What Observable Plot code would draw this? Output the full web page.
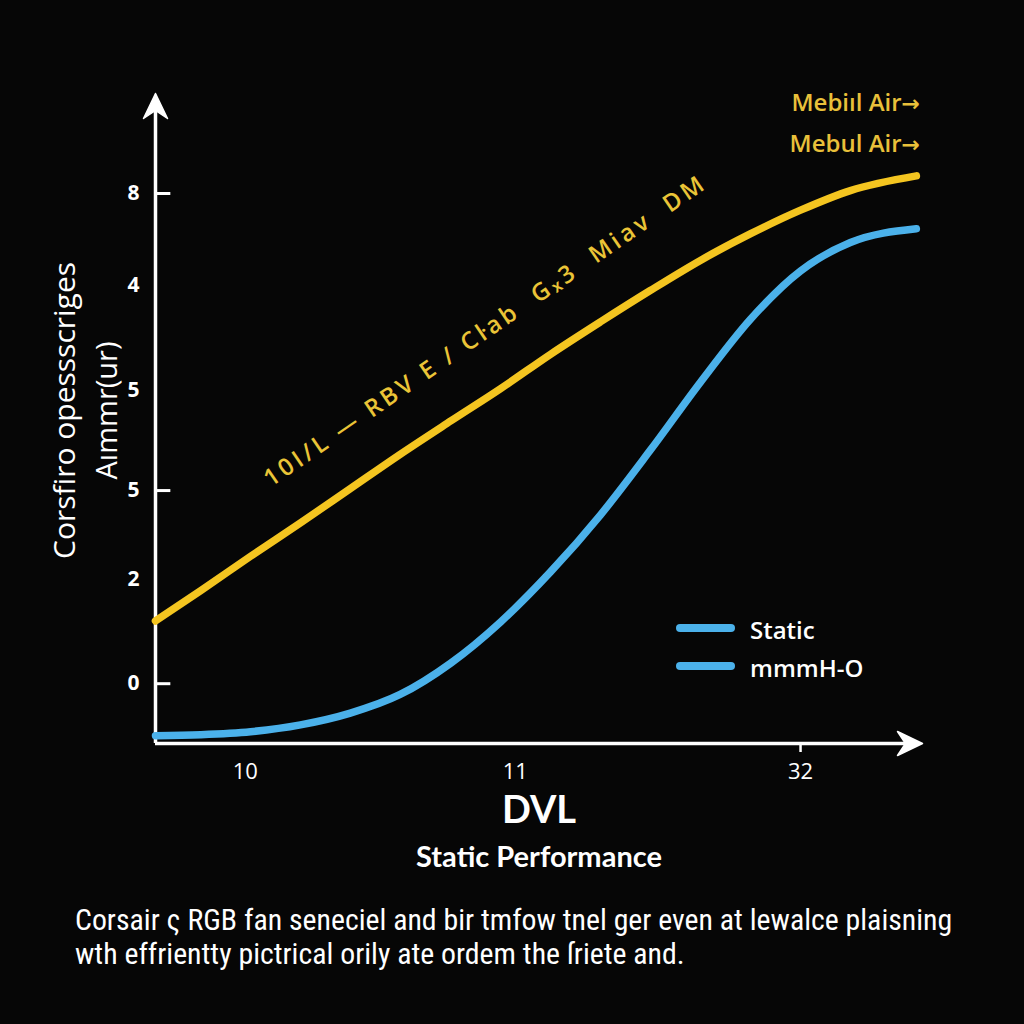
<!DOCTYPE html>
<html>
<head>
<meta charset="utf-8">
<script src="https://cdn.jsdelivr.net/npm/d3@7"></script>
<script src="https://cdn.jsdelivr.net/npm/@observablehq/plot@0.6"></script>
<style>
  html, body { margin: 0; padding: 0; background: #060606; }
  #wrap { position: relative; width: 1024px; height: 1024px; overflow: hidden; background: #060606; }
  #chart svg { display: block; }
  .note text { letter-spacing: 3.6px; white-space: pre; }
  .leg { position: absolute; font-family: "Open Sans", sans-serif; font-weight: 600; font-size: 24px; color: #ffffff; line-height: 1; }
  .legline { position: absolute; width: 59px; height: 8px; border-radius: 4px; background: #4bb1ea; }
  .tr { position: absolute; right: 104px; font-family: "Open Sans", sans-serif; font-weight: 600; font-size: 24px; color: #e9c03a; line-height: 1; white-space: nowrap; }
  .tr .arr { font-family: "DejaVu Sans", sans-serif; font-weight: bold; font-size: 22px; }
  #caption { position: absolute; left: 75px; top: 903px; font-family: "Liberation Sans Narrow", "Roboto Condensed", sans-serif; font-size: 29.8px; line-height: 34px; color: #ffffff; white-space: nowrap; }
</style>
</head>
<body>
<div id="wrap">
  <div id="chart"></div>
</div>
<script>
// ---- data ----
const xValues = [0, 5.9, 12.4, 18.9, 25.4, 31.9, 38.5, 45.0, 51.5, 58.0, 64.5, 71.1, 77.6, 84.1, 90.6, 99.2];
const yellowValues = [0.64, 0.95, 1.30, 1.64, 1.99, 2.34, 2.68, 3.01, 3.36, 3.69, 4.01, 4.32, 4.59, 4.83, 5.03, 5.18];
const blueValues = [-0.53, -0.52, -0.49, -0.42, -0.30, -0.11, 0.21, 0.63, 1.14, 1.72, 2.38, 3.08, 3.72, 4.21, 4.50, 4.64];

const yTickValues = [0, 1.07, 1.97, 2.99, 4.06, 5];
const yTickLabels = ["0", "2", "5", "5", "4", "8"];
const yTickMarks = [0, 1.97, 5];
const xTickValues = [11.7, 46.9, 84.1];
const xTickLabels = ["10", "11", "32"];
const xTickMarks = [84.1];

const xDomain = [0, 100];
const yDomain = [-0.61, 6.02];

const yAxisTitle = ["Corsfiro opessscriges", "Aımmr(ur)"];
const xAxisTitle = "DVL";
const xAxisSubtitle = "Static Performance";
const curveNote = "10I/L — RBV E / Cŀab  Gₓ3  Miav  DM";
const noteAt = {x: 43.0, y: 3.60};
const topLabels = ["Mebiıl Air", "Mebul Air"];
const legendLabels = ["Static", "mmmH-O"];
const captionLines = [
  "Corsair ς RGB fan seneciel and bir tmfow tnel ger even at lewalce plaisning",
  "wth effrientty pictrical orily ate ordem the ſriete and."
];

const yellow = xValues.map((x, i) => ({x, y: yellowValues[i]}));
const blue = xValues.map((x, i) => ({x, y: blueValues[i]}));

const YELLOW = "#f4c520";
const BLUE = "#4bb1ea";

const yLabelMap = new Map(yTickValues.map((v, i) => [v, yTickLabels[i]]));
const xLabelMap = new Map(xTickValues.map((v, i) => [v, xTickLabels[i]]));

// filled, notched arrowhead for the axis ends (vector points "up" before rotation)
const arrowHead = {
  draw(context, l) {
    context.moveTo(0, -l);
    context.lineTo(-12, 0);
    context.lineTo(0, -8);
    context.lineTo(12, 0);
    context.closePath();
  }
};

const plot = Plot.plot({
  width: 1024,
  height: 890,
  marginLeft: 155,
  marginRight: 102,
  marginTop: 93,
  marginBottom: 147,
  style: {background: "#060606", color: "#ffffff", overflow: "visible"},
  x: {domain: xDomain},
  y: {domain: yDomain},
  marks: [
    // axis lines with arrowheads
    Plot.ruleX([xDomain[0]], {stroke: "#ffffff", strokeWidth: 3.5, insetTop: 10}),
    Plot.ruleY([yDomain[0]], {stroke: "#ffffff", strokeWidth: 3.5, insetRight: 10}),
    Plot.vector([{x: xDomain[0], y: yDomain[1]}], {x: "x", y: "y", length: 25, rotate: 0, anchor: "end", shape: arrowHead, fill: "#ffffff", stroke: "#ffffff", strokeWidth: 1.5, strokeLinejoin: "round"}),
    Plot.vector([{x: xDomain[1], y: yDomain[0]}], {x: "x", y: "y", length: 25, rotate: 90, anchor: "end", shape: arrowHead, fill: "#ffffff", stroke: "#ffffff", strokeWidth: 1.5, strokeLinejoin: "round"}),
    // y tick marks (inside) and labels
    Plot.ruleY(yTickMarks, {x1: 0, x2: 2, stroke: "#ffffff", strokeWidth: 3}),
    Plot.axisY({ticks: yTickValues, tickSize: 0, tickPadding: 16, tickFormat: d => yLabelMap.get(d), fontSize: 21, fontWeight: "bold", fontFamily: "Open Sans, sans-serif", label: null}),
    // x tick mark and labels
    Plot.axisX({ticks: xTickMarks, tickSize: 9, strokeWidth: 2.5, tickFormat: () => "", label: null}),
    Plot.axisX({ticks: xTickValues, tickSize: 0, tickPadding: 20, tickFormat: d => xLabelMap.get(d), fontSize: 22, fontWeight: 500, fontFamily: "Open Sans, sans-serif", label: null}),
    // curves
    Plot.line(yellow, {x: "x", y: "y", stroke: YELLOW, strokeWidth: 7.5, curve: "monotone-x", strokeLinecap: "round"}),
    Plot.line(blue, {x: "x", y: "y", stroke: BLUE, strokeWidth: 7.5, curve: "monotone-x", strokeLinecap: "round"}),
    // rotated annotation
    Plot.text([noteAt], {x: "x", y: "y", text: () => curveNote, rotate: -34.5, fill: "#eac437", fontSize: 24, fontWeight: 600, fontFamily: "Open Sans, sans-serif", className: "note"}),
    // y axis title (two lines, rotated)
    Plot.text([yAxisTitle[0]], {frameAnchor: "left", textAnchor: "middle", lineAnchor: "middle", text: d => d, rotate: -90, dx: -90, dy: -8, fill: "#ffffff", fontSize: 30, fontWeight: 500, fontFamily: "Open Sans, sans-serif"}),
    Plot.text([yAxisTitle[1]], {frameAnchor: "left", textAnchor: "middle", lineAnchor: "middle", text: d => d, rotate: -90, dx: -48, dy: -8, fill: "#ffffff", fontSize: 29, fontWeight: 500, fontFamily: "Open Sans, sans-serif"}),
    // x axis titles
    Plot.text([xAxisTitle], {frameAnchor: "bottom", lineAnchor: "middle", text: d => d, dy: 67, fill: "#ffffff", fontSize: 38, fontWeight: "bold", fontFamily: "Lato, sans-serif"}),
    Plot.text([xAxisSubtitle], {frameAnchor: "bottom", lineAnchor: "middle", text: d => d, dy: 114, fill: "#ffffff", fontSize: 29, fontWeight: "bold", fontFamily: "Lato, sans-serif"})
  ]
});
document.getElementById("chart").appendChild(plot);

const wrap = document.getElementById("wrap");
// top-right series labels
topLabels.forEach((t, i) => {
  const d = document.createElement("div");
  d.className = "tr";
  d.style.top = (90 + i * 41) + "px";
  d.appendChild(document.createTextNode(t));
  const a = document.createElement("span");
  a.className = "arr";
  a.textContent = "→";
  d.appendChild(a);
  wrap.appendChild(d);
});
// legend
legendLabels.forEach((t, i) => {
  const l = document.createElement("div");
  l.className = "legline";
  l.style.left = "676px";
  l.style.top = (624 + i * 38) + "px";
  wrap.appendChild(l);
  const d = document.createElement("div");
  d.className = "leg";
  d.style.left = "750px";
  d.style.top = (618 + i * 38) + "px";
  d.textContent = t;
  wrap.appendChild(d);
});
// caption
const cap = document.createElement("div");
cap.id = "caption";
cap.innerHTML = captionLines.join("<br>");
wrap.appendChild(cap);
</script>
</body>
</html>
